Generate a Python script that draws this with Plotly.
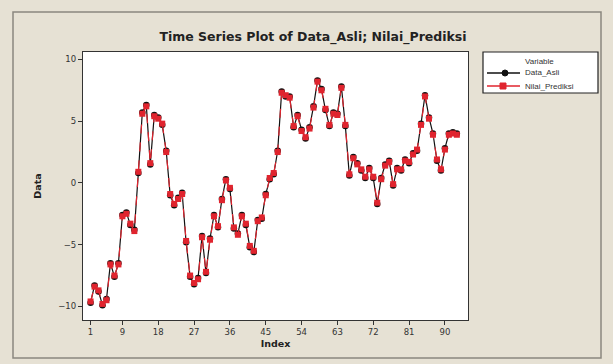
import plotly.graph_objects as go

# Observed series (Data_Asli) and the model's predicted values (Nilai_Prediksi)
data_asli = [
    -9.7, -8.3, -8.8, -9.9, -9.4, -6.5, -7.6, -6.5, -2.6, -2.4,
    -3.4, -3.8, 0.8, 5.7, 6.3, 1.5, 5.5, 5.3, 4.7, 2.6,
    -1.0, -1.8, -1.2, -0.8, -4.8, -7.6, -8.2, -7.7, -4.3, -7.3,
    -4.5, -2.6, -3.6, -1.3, 0.3, -0.5, -3.7, -4.1, -2.6, -3.4,
    -5.2, -5.6, -3.0, -2.9, -0.9, 0.3, 0.7, 2.6, 7.4, 7.0,
    7.0, 4.5, 5.5, 4.3, 3.6, 4.5, 6.2, 8.3, 7.6, 5.9,
    4.6, 5.7, 5.6, 7.8, 4.6, 0.6, 2.1, 1.6, 1.0, 0.4,
    1.2, 0.4, -1.7, 0.4, 1.5, 1.8, -0.2, 1.2, 1.0, 1.9,
    1.6, 2.4, 2.6, 4.8, 7.1, 5.3, 4.0, 1.8, 1.0, 2.8,
    4.0, 4.1, 4.0,
]
nilai_prediksi = [
    -9.6, -8.4, -8.7, -9.8, -9.5, -6.6, -7.5, -6.6, -2.7, -2.5,
    -3.3, -3.9, 0.9, 5.6, 6.2, 1.6, 5.4, 5.2, 4.8, 2.5,
    -0.9, -1.7, -1.3, -0.9, -4.7, -7.5, -8.1, -7.8, -4.4, -7.2,
    -4.6, -2.7, -3.5, -1.4, 0.2, -0.4, -3.6, -4.2, -2.7, -3.3,
    -5.1, -5.5, -3.1, -2.8, -1.0, 0.4, 0.8, 2.5, 7.3, 7.1,
    6.9, 4.6, 5.4, 4.2, 3.7, 4.4, 6.1, 8.2, 7.5, 6.0,
    4.7, 5.6, 5.5, 7.7, 4.7, 0.7, 2.0, 1.5, 1.1, 0.5,
    1.1, 0.5, -1.6, 0.3, 1.4, 1.7, -0.1, 1.1, 1.1, 1.8,
    1.7, 2.3, 2.7, 4.7, 7.0, 5.2, 3.9, 1.9, 1.1, 2.7,
    3.9, 4.0, 3.9,
]
index = list(range(1, len(data_asli) + 1))

x_ticks = [1, 9, 18, 27, 36, 45, 54, 63, 72, 81, 90]
y_ticks = [-10, -5, 0, 5, 10]

BG = "#E6E1D4"
RED = "#E0242E"
INK = "#111111"
FONT = "DejaVu Sans"

W, H = 613, 364
ML, MR, MT, MB = 83, 145, 52, 44
PW, PH = W - ML - MR, H - MT - MB


def px(xp):
    """Pixel column -> paper x."""
    return (xp - ML) / PW


def py(yp):
    """Pixel row -> paper y."""
    return (H - MB - yp) / PH


fig = go.Figure()
fig.add_trace(go.Scatter(
    x=index, y=data_asli, name="Data_Asli", mode="lines+markers",
    line=dict(color=INK, width=1.2),
    marker=dict(symbol="circle", size=6.5, color=INK),
))
fig.add_trace(go.Scatter(
    x=index, y=nilai_prediksi, name="Nilai_Prediksi", mode="lines+markers",
    line=dict(color=RED, width=1.2, dash="dash"),
    marker=dict(symbol="square", size=6, color=RED),
))

axis_common = dict(
    showgrid=False, zeroline=False, ticks="outside", ticklen=4,
    tickcolor="#333333", tickwidth=1, showline=True, linecolor="#333333",
    linewidth=1.2, mirror=True,
    tickfont=dict(family=FONT, size=8.5, color="#333333"),
)

# Compact legend box: frame, sample lines/markers and labels
legend_shapes = [
    dict(type="rect", xref="paper", yref="paper",
         x0=px(483), x1=px(598), y0=py(93), y1=py(52),
         line=dict(color="#222222", width=1.2), fillcolor="white"),
    dict(type="line", xref="paper", yref="paper",
         x0=px(487), x1=px(520), y0=py(73), y1=py(73),
         line=dict(color=INK, width=1.3)),
    dict(type="circle", xref="paper", yref="paper",
         x0=px(502), x1=px(508), y0=py(76), y1=py(70),
         line=dict(color=INK, width=1), fillcolor=INK),
    dict(type="line", xref="paper", yref="paper",
         x0=px(487), x1=px(520), y0=py(86), y1=py(86),
         line=dict(color=RED, width=1.3)),
    dict(type="rect", xref="paper", yref="paper",
         x0=px(500), x1=px(506), y0=py(89), y1=py(83),
         line=dict(color=RED, width=1), fillcolor=RED),
]
legend_labels = [("Variable", 61), ("Data_Asli", 73), ("Nilai_Prediksi", 86)]
annotations = [
    dict(text=t, xref="paper", yref="paper", x=px(523), y=py(yy),
         xanchor="left", yanchor="middle", showarrow=False,
         font=dict(family="Liberation Sans", size=8, color="#333333"))
    for t, yy in legend_labels
]

frame = dict(
    type="rect", xref="paper", yref="paper",
    x0=px(13), x1=px(601), y0=py(358), y1=py(12),
    line=dict(color="#8A877F", width=1.5), fillcolor="rgba(0,0,0,0)",
    layer="below",
)

fig.update_layout(
    width=W, height=H,
    paper_bgcolor=BG, plot_bgcolor="white",
    margin=dict(l=ML, r=MR, t=MT, b=MB),
    showlegend=False,
    title=dict(
        text="<b>Time Series Plot of Data_Asli; Nilai_Prediksi</b>",
        x=313 / W, xanchor="center", y=1 - 37 / H, yanchor="middle",
        font=dict(family=FONT, size=12.5, color="#222222"),
    ),
    xaxis=dict(
        range=[-0.9, 95.8], tickvals=x_ticks,
        title=dict(text="<b>Index</b>", standoff=4,
                   font=dict(family=FONT, size=9.5, color="#222222")),
        **axis_common,
    ),
    yaxis=dict(
        range=[-11.1, 10.6], tickvals=y_ticks,
        title=dict(text="<b>Data</b>", standoff=14,
                   font=dict(family=FONT, size=9.5, color="#222222")),
        **axis_common,
    ),
    shapes=[frame] + legend_shapes,
    annotations=annotations,
)

fig.write_html("out.html")
